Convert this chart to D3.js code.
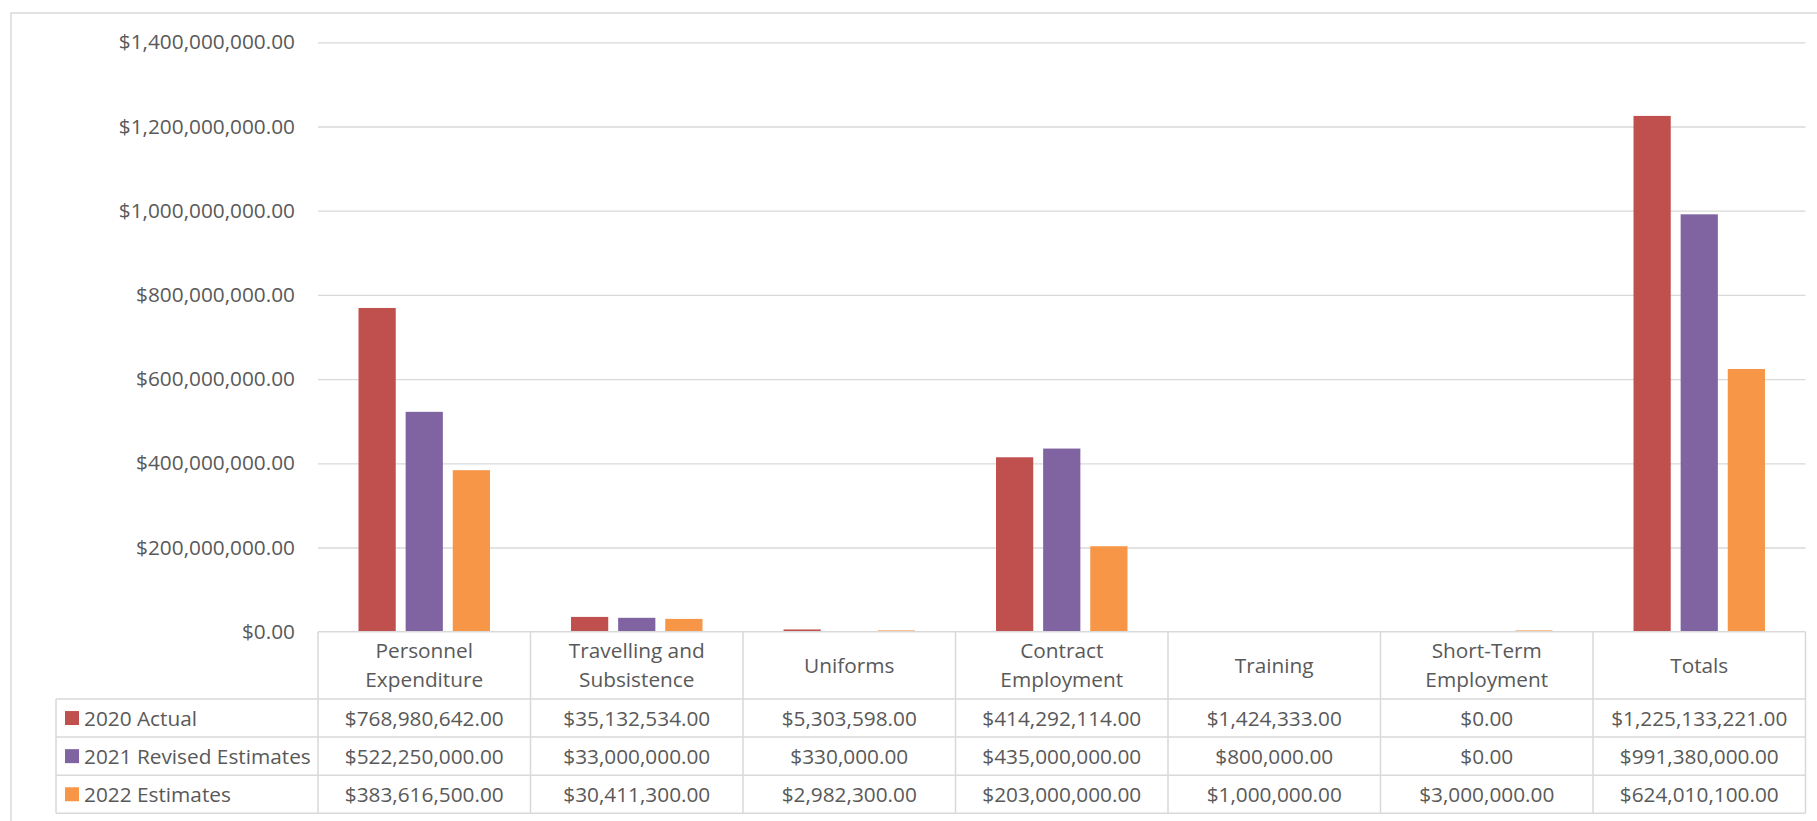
<!DOCTYPE html>
<html>
<head>
<meta charset="utf-8">
<script src="https://cdn.jsdelivr.net/npm/d3@7"></script>
<style>
  html, body { margin: 0; padding: 0; background: #fff; }
  text { font-family: "Open Sans", "Noto Sans", sans-serif; fill: #595959; }
</style>
</head>
<body>
<svg id="stage" width="1817" height="821"></svg>
<script>

//Categories (header lines of the data table)
var categories = ["Personnel Expenditure", "Travelling and Subsistence", "Uniforms",
                  "Contract Employment", "Training", "Short-Term Employment", "Totals"];
var category_lines = [["Personnel", "Expenditure"], ["Travelling and", "Subsistence"], ["Uniforms"],
                      ["Contract", "Employment"], ["Training"], ["Short-Term", "Employment"], ["Totals"]];

//Series
var series_names = ["2020 Actual", "2021 Revised Estimates", "2022 Estimates"];
var actual_2020    = [768980642, 35132534, 5303598, 414292114, 1424333, 0, 1225133221];
var revised_2021   = [522250000, 33000000, 330000, 435000000, 800000, 0, 991380000];
var estimates_2022 = [383616500, 30411300, 2982300, 203000000, 1000000, 3000000, 624010100];

//Y ticks
var y_ticks = [0, 200000000, 400000000, 600000000, 800000000, 1000000000, 1200000000, 1400000000];

var series_values = [actual_2020, revised_2021, estimates_2022];
var colors = ["#C0504D", "#8064A2", "#F79646"];

var svg = d3.select("#stage");
var money = function(v){ return "$" + d3.format(",.2f")(v); };

//Layout
var plot_left = 318, plot_right = 1805.5;
var zero_y = 631.7, top_y = 42.3;
var legend_left = 56;
var header_bottom = 699;
var row_h = 38.1;
var line_color = "#d9d9d9";
var font_size = 20.8;

//Outer chart border (right and bottom run off the picture)
svg.append("rect")
  .attr("x", 11).attr("y", 13)
  .attr("width", 1900).attr("height", 900)
  .style("fill", "none")
  .style("stroke", line_color)
  .style("stroke-width", 1.5);

//Scales
var x0 = d3.scaleBand().domain(categories).range([plot_left, plot_right]).padding(0);
var x1 = d3.scaleBand().domain(series_names).range([0, x0.bandwidth()])
           .paddingInner(0.21).paddingOuter(0.86);
var y = d3.scaleLinear().domain([0, 1400000000]).range([zero_y, top_y]);

//Y axis with gridlines
var yAxis = d3.axisLeft(y)
  .tickValues(y_ticks)
  .tickSize(-(plot_right - plot_left))
  .tickPadding(23)
  .tickFormat(money);

var gy = svg.append("g")
  .attr("transform", "translate(" + plot_left + ",0)")
  .call(yAxis);
gy.select(".domain").remove();
gy.selectAll(".tick line")
  .style("stroke", line_color)
  .style("stroke-width", 1.3)
  .filter(function(d){ return d === 0; }).remove();
gy.selectAll(".tick text")
  .style("font-size", font_size + "px")
  .style("font-family", "'Open Sans', 'Noto Sans', sans-serif")
  .style("fill", "#595959");

//Bars
var bar_data = [];
categories.forEach(function(c, ci){
  series_names.forEach(function(s, si){
    bar_data.push({cat: c, series: s, value: series_values[si][ci], color: colors[si]});
  });
});

svg.append("g").selectAll("rect")
  .data(bar_data)
  .enter().append("rect")
  .attr("x", function(d){ return x0(d.cat) + x1(d.series); })
  .attr("y", function(d){ return y(d.value); })
  .attr("width", x1.bandwidth())
  .attr("height", function(d){ return zero_y - y(d.value); })
  .style("fill", function(d){ return d.color; });

//Data table
var table = svg.append("g");

//header cells
var header = table.selectAll("g.head")
  .data(categories)
  .enter().append("g")
  .attr("class", "head");

header.append("text")
  .attr("text-anchor", "middle")
  .style("font-size", font_size + "px")
  .attr("x", function(d){ return x0(d) + x0.bandwidth() / 2; })
  .attr("y", function(d, i){ return category_lines[i].length > 1 ? 658 : 673; })
  .selectAll("tspan")
  .data(function(d, i){ return category_lines[i]; })
  .enter().append("tspan")
  .attr("x", function(){ var c = d3.select(this.parentNode).datum(); return x0(c) + x0.bandwidth() / 2; })
  .attr("dy", function(d, i){ return i === 0 ? 0 : 29; })
  .text(function(d){ return d; });

//value rows
series_names.forEach(function(s, si){
  var cy = header_bottom + row_h * si + row_h / 2;

  table.append("rect")
    .attr("x", 65).attr("y", cy - 7)
    .attr("width", 14).attr("height", 14)
    .style("fill", colors[si]);

  table.append("text")
    .attr("x", 84).attr("y", cy)
    .attr("dy", "0.36em")
    .style("font-size", font_size + "px")
    .text(s);

  table.selectAll("text.v" + si)
    .data(categories)
    .enter().append("text")
    .attr("class", "v" + si)
    .attr("text-anchor", "middle")
    .attr("x", function(d){ return x0(d) + x0.bandwidth() / 2; })
    .attr("y", cy)
    .attr("dy", "0.36em")
    .style("font-size", font_size + "px")
    .text(function(d, ci){ return money(series_values[si][ci]); });
});

//table lines
var bottom_y = header_bottom + row_h * series_names.length;
var hlines = [{x1: plot_left, x2: plot_right, y: zero_y}];
for(var i = 0; i <= series_names.length; i++){
  hlines.push({x1: legend_left, x2: plot_right, y: header_bottom + row_h * i});
}
var vlines = [{x: legend_left, y1: header_bottom, y2: bottom_y}];
categories.forEach(function(c){ vlines.push({x: x0(c), y1: zero_y, y2: bottom_y}); });
vlines.push({x: plot_right, y1: zero_y, y2: bottom_y});

table.selectAll("line.h")
  .data(hlines)
  .enter().append("line")
  .attr("x1", function(d){ return d.x1; })
  .attr("x2", function(d){ return d.x2; })
  .attr("y1", function(d){ return d.y; })
  .attr("y2", function(d){ return d.y; })
  .style("stroke", line_color)
  .style("stroke-width", 1.5);

table.selectAll("line.v")
  .data(vlines)
  .enter().append("line")
  .attr("x1", function(d){ return d.x; })
  .attr("x2", function(d){ return d.x; })
  .attr("y1", function(d){ return d.y1; })
  .attr("y2", function(d){ return d.y2; })
  .style("stroke", line_color)
  .style("stroke-width", 1.5);

</script>
</body>
</html>
